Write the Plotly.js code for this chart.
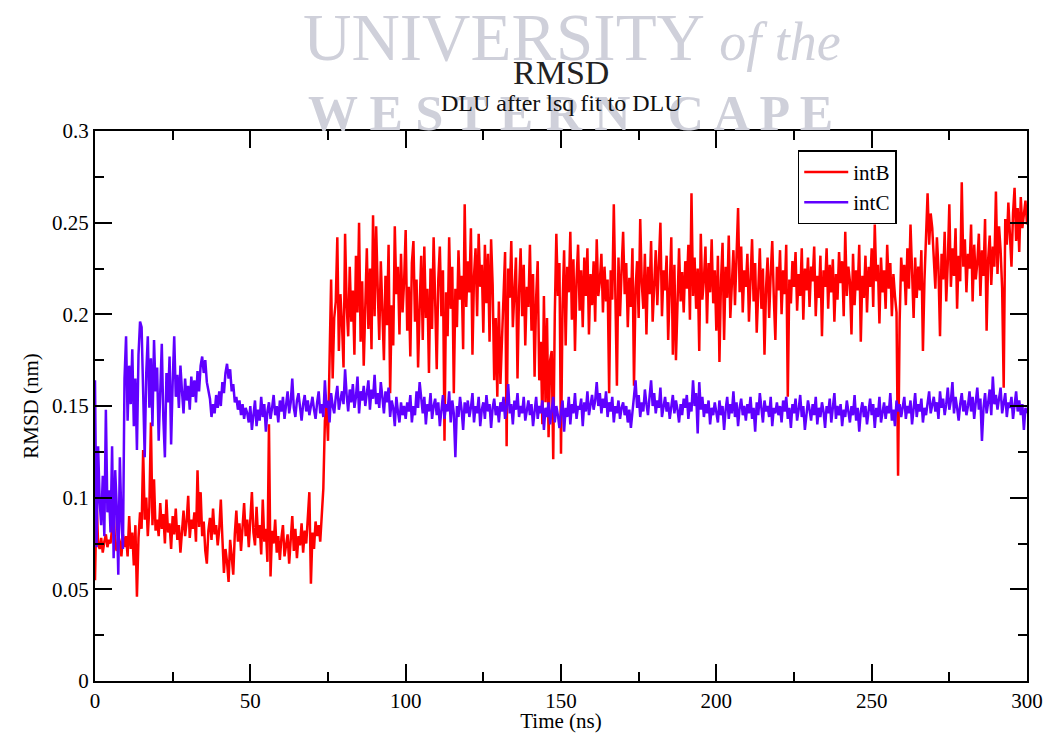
<!DOCTYPE html>
<html>
<head>
<meta charset="utf-8">
<script src="https://cdn.plot.ly/plotly-3.0.1.min.js"></script>
<style>
html,body{margin:0;padding:0;background:#fff;}
#chart{width:1049px;height:733px;}
</style>
</head>
<body>
<div id="chart"></div>
<script>
// Time axis: one frame every 0.5 ns from 0 to 300 ns
const timeStart = 0;
const timeStep = 0.5;

const seriesNames = ["intB", "intC"];

// RMSD (nm) of intB
const intB = [
0.055,0.099,0.075,0.072,0.078,0.07,0.076,0.08,0.073,0.077,0.075,0.082,0.092,0.074,0.071,0.079,0.076,0.068,0.08,0.073,
0.079,0.068,0.09,0.072,0.081,0.063,0.085,0.046,0.078,0.092,0.083,0.126,0.088,0.1,0.079,0.095,0.141,0.085,0.11,0.082,
0.088,0.079,0.097,0.083,0.091,0.075,0.099,0.081,0.086,0.072,0.09,0.08,0.094,0.077,0.085,0.07,0.082,0.093,0.079,0.087,
0.101,0.078,0.088,0.083,0.092,0.076,0.115,0.084,0.103,0.079,0.087,0.071,0.064,0.082,0.089,0.077,0.094,0.08,0.085,0.074,
0.083,0.099,0.078,0.059,0.072,0.065,0.054,0.077,0.068,0.058,0.08,0.093,0.076,0.086,0.071,0.084,0.097,0.079,0.088,0.073,
0.09,0.103,0.081,0.074,0.095,0.078,0.085,0.069,0.099,0.076,0.083,0.065,0.14,0.057,0.082,0.075,0.088,0.07,0.079,0.066,
0.078,0.085,0.068,0.073,0.08,0.064,0.076,0.09,0.071,0.083,0.067,0.079,0.074,0.086,0.07,0.082,0.075,0.088,0.103,0.053,
0.081,0.072,0.087,0.079,0.085,0.076,0.092,0.105,0.142,0.15,0.131,0.179,0.219,0.165,0.198,0.207,0.242,0.18,0.211,0.195,
0.171,0.244,0.205,0.188,0.226,0.196,0.213,0.178,0.232,0.201,0.25,0.185,0.218,0.172,0.208,0.236,0.192,0.225,0.181,0.254,
0.199,0.248,0.214,0.186,0.229,0.203,0.175,0.221,0.194,0.238,0.157,0.205,0.183,0.248,0.211,0.226,0.189,0.233,0.201,0.218,
0.246,0.191,0.215,0.177,0.228,0.24,0.196,0.219,0.171,0.204,0.232,0.186,0.237,0.198,0.214,0.168,0.225,0.192,0.242,0.207,
0.17,0.219,0.237,0.199,0.224,0.131,0.212,0.188,0.242,0.203,0.226,0.157,0.214,0.193,0.235,0.208,0.221,0.181,0.26,0.204,
0.229,0.212,0.247,0.178,0.221,0.236,0.199,0.244,0.215,0.227,0.19,0.238,0.206,0.233,0.185,0.241,0.216,0.164,0.198,0.155,
0.207,0.162,0.188,0.219,0.234,0.128,0.225,0.209,0.24,0.193,0.218,0.231,0.165,0.212,0.236,0.199,0.227,0.183,0.215,0.204,
0.238,0.191,0.222,0.166,0.209,0.229,0.164,0.185,0.14,0.21,0.152,0.198,0.133,0.175,0.18,0.121,0.2,0.244,0.21,0.228,
0.124,0.205,0.235,0.183,0.226,0.212,0.245,0.197,0.23,0.18,0.219,0.238,0.202,0.224,0.193,0.231,0.21,0.236,0.189,0.222,
0.205,0.229,0.196,0.241,0.21,0.218,0.233,0.201,0.226,0.207,0.219,0.157,0.224,0.208,0.26,0.213,0.161,0.231,0.199,0.224,
0.245,0.211,0.228,0.193,0.22,0.204,0.236,0.161,0.214,0.229,0.198,0.252,0.217,0.203,0.233,0.189,0.226,0.211,0.24,0.196,
0.221,0.235,0.205,0.228,0.25,0.199,0.224,0.213,0.232,0.186,0.219,0.242,0.178,0.227,0.175,0.215,0.236,0.207,0.223,0.201,
0.229,0.214,0.238,0.197,0.266,0.21,0.231,0.203,0.225,0.18,0.244,0.208,0.219,0.237,0.195,0.228,0.212,0.241,0.206,0.224,
0.191,0.232,0.174,0.218,0.239,0.186,0.226,0.209,0.243,0.198,0.22,0.235,0.205,0.228,0.258,0.212,0.237,0.201,0.224,0.215,
0.233,0.196,0.221,0.241,0.207,0.228,0.19,0.217,0.236,0.203,0.225,0.178,0.214,0.231,0.198,0.222,0.24,0.209,0.186,0.226,
0.213,0.235,0.2,0.224,0.211,0.238,0.155,0.219,0.206,0.229,0.215,0.234,0.202,0.222,0.21,0.236,0.197,0.225,0.213,0.231,
0.204,0.226,0.218,0.237,0.199,0.221,0.209,0.232,0.188,0.224,0.215,0.236,0.203,0.227,0.212,0.23,0.196,0.222,0.208,0.234,
0.217,0.229,0.199,0.245,0.21,0.226,0.218,0.189,0.233,0.205,0.224,0.213,0.238,0.185,0.221,0.209,0.232,0.201,0.226,0.215,
0.236,0.204,0.249,0.218,0.227,0.195,0.231,0.212,0.224,0.203,0.238,0.214,0.228,0.199,0.222,0.21,0.201,0.112,0.196,0.231,
0.218,0.227,0.205,0.236,0.214,0.249,0.222,0.198,0.231,0.209,0.226,0.213,0.235,0.18,0.219,0.243,0.266,0.238,0.255,0.247,
0.231,0.214,0.242,0.225,0.188,0.233,0.219,0.245,0.207,0.228,0.26,0.215,0.236,0.221,0.247,0.203,0.232,0.218,0.272,0.226,
0.241,0.212,0.233,0.225,0.249,0.207,0.238,0.219,0.228,0.244,0.21,0.235,0.221,0.252,0.191,0.23,0.243,0.216,0.237,0.226,
0.267,0.222,0.248,0.235,0.214,0.16,0.252,0.238,0.261,0.244,0.226,0.255,0.269,0.24,0.258,0.234,0.264,0.247,0.256,0.262,
0.249
];

// RMSD (nm) of intC
const intC = [
0.164,0.073,0.128,0.098,0.085,0.112,0.079,0.148,0.092,0.104,0.081,0.128,0.067,0.115,0.095,0.058,0.122,0.088,0.072,0.165,
0.188,0.142,0.172,0.151,0.181,0.139,0.165,0.126,0.178,0.196,0.193,0.149,0.122,0.168,0.188,0.149,0.176,0.139,0.186,0.158,
0.171,0.131,0.162,0.184,0.143,0.122,0.168,0.152,0.177,0.129,0.163,0.188,0.155,0.167,0.149,0.172,0.158,0.146,0.165,0.153,
0.161,0.148,0.166,0.155,0.164,0.152,0.169,0.158,0.172,0.177,0.168,0.175,0.163,0.159,0.154,0.144,0.151,0.146,0.156,0.149,
0.158,0.15,0.163,0.157,0.168,0.173,0.165,0.17,0.158,0.162,0.152,0.155,0.148,0.153,0.145,0.151,0.143,0.149,0.146,0.141,
0.15,0.137,0.146,0.153,0.139,0.148,0.142,0.155,0.144,0.151,0.136,0.147,0.152,0.143,0.149,0.156,0.145,0.15,0.141,0.153,
0.147,0.155,0.143,0.15,0.158,0.146,0.152,0.165,0.149,0.144,0.153,0.157,0.148,0.142,0.151,0.156,0.147,0.153,0.145,0.15,
0.155,0.148,0.143,0.152,0.158,0.146,0.151,0.144,0.164,0.149,0.153,0.141,0.157,0.15,0.146,0.155,0.161,0.148,0.153,0.158,
0.151,0.17,0.156,0.147,0.159,0.152,0.162,0.149,0.155,0.166,0.146,0.158,0.153,0.161,0.15,0.157,0.164,0.148,0.159,0.154,
0.167,0.151,0.157,0.149,0.163,0.155,0.146,0.158,0.152,0.16,0.144,0.153,0.149,0.139,0.155,0.147,0.141,0.152,0.145,0.15,
0.143,0.152,0.147,0.156,0.141,0.15,0.145,0.158,0.149,0.163,0.152,0.146,0.155,0.14,0.151,0.147,0.157,0.143,0.15,0.154,
0.145,0.152,0.139,0.149,0.156,0.143,0.151,0.147,0.158,0.141,0.153,0.146,0.122,0.15,0.144,0.155,0.148,0.137,0.152,0.146,
0.153,0.144,0.149,0.157,0.141,0.15,0.146,0.155,0.139,0.148,0.152,0.143,0.156,0.147,0.151,0.138,0.149,0.154,0.145,0.15,
0.141,0.152,0.147,0.155,0.143,0.149,0.162,0.146,0.151,0.14,0.153,0.148,0.157,0.144,0.15,0.146,0.155,0.142,0.149,0.153,
0.145,0.151,0.139,0.148,0.155,0.143,0.15,0.146,0.153,0.137,0.149,0.144,0.152,0.14,0.147,0.155,0.141,0.15,0.145,0.138,
0.147,0.153,0.136,0.149,0.144,0.155,0.14,0.151,0.146,0.157,0.143,0.15,0.148,0.154,0.139,0.152,0.147,0.158,0.145,0.151,
0.156,0.148,0.153,0.163,0.15,0.157,0.146,0.154,0.149,0.158,0.144,0.152,0.147,0.155,0.141,0.15,0.146,0.153,0.143,0.149,
0.152,0.145,0.15,0.141,0.148,0.138,0.147,0.153,0.164,0.149,0.156,0.144,0.152,0.147,0.159,0.151,0.145,0.155,0.164,0.15,
0.157,0.146,0.153,0.149,0.16,0.144,0.151,0.155,0.147,0.152,0.143,0.15,0.156,0.146,0.153,0.148,0.141,0.151,0.145,0.154,
0.149,0.156,0.143,0.152,0.147,0.164,0.15,0.157,0.135,0.163,0.148,0.155,0.144,0.151,0.146,0.153,0.14,0.149,0.145,0.152,
0.147,0.141,0.153,0.145,0.15,0.137,0.148,0.155,0.143,0.151,0.146,0.158,0.144,0.152,0.139,0.149,0.154,0.145,0.15,0.142,
0.151,0.146,0.155,0.143,0.149,0.136,0.152,0.145,0.157,0.148,0.141,0.153,0.147,0.15,0.144,0.155,0.139,0.149,0.146,0.152,
0.145,0.15,0.141,0.153,0.147,0.155,0.143,0.149,0.138,0.151,0.146,0.154,0.142,0.148,0.156,0.144,0.15,0.137,0.147,0.153,
0.148,0.142,0.151,0.145,0.155,0.14,0.149,0.144,0.152,0.147,0.138,0.15,0.146,0.154,0.141,0.148,0.157,0.143,0.15,0.145,
0.151,0.139,0.148,0.144,0.153,0.147,0.141,0.15,0.145,0.156,0.142,0.149,0.136,0.147,0.152,0.144,0.15,0.14,0.148,0.154,
0.145,0.151,0.138,0.149,0.144,0.155,0.141,0.148,0.152,0.143,0.15,0.146,0.157,0.142,0.148,0.139,0.153,0.147,0.151,0.144,
0.149,0.155,0.143,0.15,0.146,0.153,0.14,0.148,0.157,0.144,0.151,0.147,0.154,0.141,0.149,0.145,0.152,0.158,0.146,0.15,
0.155,0.147,0.152,0.143,0.158,0.149,0.154,0.145,0.151,0.16,0.148,0.153,0.163,0.146,0.155,0.149,0.142,0.151,0.157,0.147,
0.153,0.145,0.15,0.158,0.147,0.155,0.143,0.152,0.16,0.148,0.154,0.131,0.149,0.157,0.146,0.152,0.159,0.145,0.166,0.151,
0.156,0.148,0.153,0.16,0.146,0.151,0.157,0.144,0.152,0.149,0.155,0.143,0.15,0.158,0.147,0.153,0.145,0.151,0.137,0.149,
0.146
];

const xTickVals = [0, 50, 100, 150, 200, 250, 300];
const yTickVals = [0, 0.05, 0.1, 0.15, 0.2, 0.25, 0.3];

const serif = '"Liberation Serif", "Times New Roman", serif';

const traces = [
  {type: 'scatter', mode: 'lines', name: seriesNames[0], x0: timeStart, dx: timeStep, y: intB,
   line: {color: '#ff0000', width: 2.5}},
  {type: 'scatter', mode: 'lines', name: seriesNames[1], x0: timeStart, dx: timeStep, y: intC,
   line: {color: '#6000ff', width: 2.5}}
];

const axisCommon = {
  showline: true, linecolor: '#000', linewidth: 2, mirror: 'allticks',
  ticks: 'inside', ticklen: 17, tickwidth: 2, tickcolor: '#000',
  showgrid: false, zeroline: false,
  tickfont: {family: serif, size: 21, color: '#000'}
};

const layout = {
  width: 1049, height: 733,
  margin: {l: 95, r: 22, t: 131, b: 52, pad: 0},
  paper_bgcolor: '#fff', plot_bgcolor: '#fff',
  showlegend: true,
  legend: {
    x: 0.754, y: 0.965, xanchor: 'left', yanchor: 'top',
    bgcolor: '#fff', bordercolor: '#000', borderwidth: 1.5,
    font: {family: serif, size: 21, color: '#000'},
    itemwidth: 44,
    tracegroupgap: 0
  },
  xaxis: Object.assign({}, axisCommon, {
    range: [0, 300], tickvals: xTickVals,
    minor: {dtick: 25, ticks: 'inside', ticklen: 9, tickwidth: 2, tickcolor: '#000', showgrid: false},
    title: {text: 'Time (ns)', font: {family: serif, size: 21, color: '#000'}, standoff: 5}
  }),
  yaxis: Object.assign({}, axisCommon, {
    range: [0, 0.3], tickvals: yTickVals,
    minor: {dtick: 0.025, ticks: 'inside', ticklen: 9, tickwidth: 2, tickcolor: '#000', showgrid: false},
    title: {text: 'RMSD (nm)', font: {family: serif, size: 21, color: '#000'}, standoff: 8}
  }),
  annotations: [
    {xref: 'paper', yref: 'paper', x: 0.512, y: (681 - 37) / 550, xanchor: 'center', yanchor: 'middle',
     showarrow: false,
     text: 'UNIVERSITY <i><span style="font-size:54px">of the</span></i>',
     font: {family: serif, size: 67, color: '#cfd0da'}},
    {xref: 'paper', yref: 'paper', x: 0.51, y: (681 - 113) / 550, xanchor: 'center', yanchor: 'middle',
     showarrow: false,
     text: '<b>W E S T E R N   C A P E</b>',
     font: {family: serif, size: 50, color: '#cfd0da'}},
    {xref: 'paper', yref: 'paper', x: 0.5, y: (681 - 72) / 550, xanchor: 'center', yanchor: 'middle',
     showarrow: false, text: 'RMSD',
     font: {family: serif, size: 34, color: '#222'}},
    {xref: 'paper', yref: 'paper', x: 0.5, y: (681 - 103) / 550, xanchor: 'center', yanchor: 'middle',
     showarrow: false, text: 'DLU after lsq fit to DLU',
     font: {family: serif, size: 24, color: '#111'}}
  ]
};

Plotly.newPlot('chart', traces, layout, {displayModeBar: false, staticPlot: true});
</script>
</body>
</html>
